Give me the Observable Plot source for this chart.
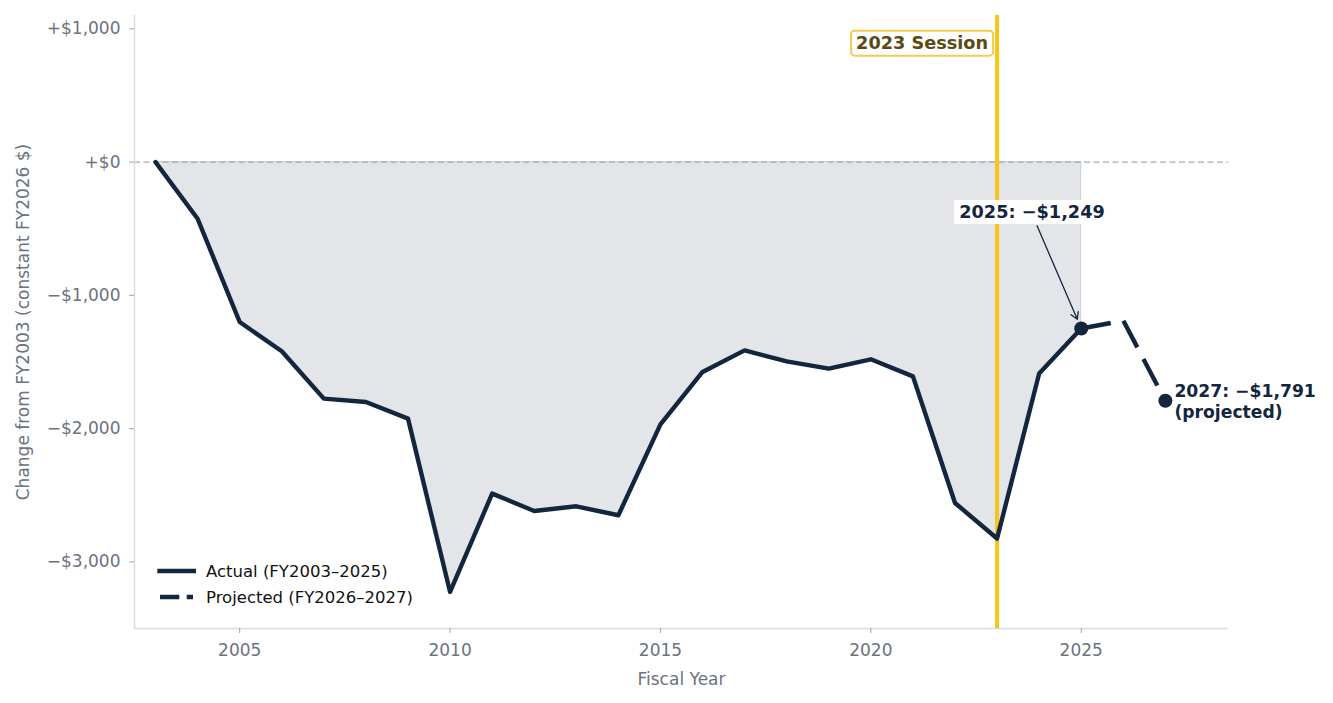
<!DOCTYPE html>
<html>
<head>
<meta charset="utf-8">
<script src="https://cdn.jsdelivr.net/npm/d3@7"></script>
<script src="https://cdn.jsdelivr.net/npm/@observablehq/plot@0.6"></script>
<style>
  html, body { margin: 0; padding: 0; background: #fff; }
  #wrap { position: relative; width: 1333px; height: 703px; font-family: "DejaVu Sans", sans-serif; }
  #legend { position: absolute; left: 156px; top: 558px; font-size: 16.5px; color: #111; }
  #legend .row { display: flex; align-items: center; height: 26px; }
  #legend svg { margin-right: 10px; }
</style>
</head>
<body>
<div id="wrap"></div>
<script>
// ---- data ----
const actualYears = [2003, 2004, 2005, 2006, 2007, 2008, 2009, 2010, 2011, 2012, 2013, 2014,
                     2015, 2016, 2017, 2018, 2019, 2020, 2021, 2022, 2023, 2024, 2025];
const actualValues = [0, -425, -1200, -1420, -1775, -1800, -1925, -3226, -2488, -2618, -2583, -2650,
                      -1968, -1575, -1413, -1495, -1550, -1480, -1608, -2558, -2825, -1587, -1249];
const projYears = [2025, 2026, 2027];
const projValues = [-1249, -1190, -1791];
const markerYears = [2025, 2027];
const markerValues = [-1249, -1791];
const xTicks = [2005, 2010, 2015, 2020, 2025];
const yTicks = [-3000, -2000, -1000, 0, 1000];
const xDomain = [2002.5, 2028.5];
const yDomain = [-3500, 1100];
const sessionYear = 2023;
const sessionText = "2023 Session";
// annotation for FY2025: label anchor and arrow start (data space)
const annot2025 = [{label: "2025: \u2212$1,249", lx: 2023.83, ly: -377, ax: 2023.95, ay: -478, px: 2025, py: -1249}];
const annot2027 = [{label: "2027: \u2212$1,791\n(projected)", px: 2027, py: -1791}];
const legendItems = ["Actual (FY2003\u20132025)", "Projected (FY2026\u20132027)"];

const navy = "#13263e";
const gold = "#f5c518";

const actualRows = actualYears.map((y, i) => ({year: y, value: actualValues[i]}));
const projRows = projYears.map((y, i) => ({year: y, value: projValues[i]}));
const markerRows = markerYears.map((y, i) => ({year: y, value: markerValues[i]}));

const fmtY = d => (d < 0 ? "\u2212" : "+") + "$" + d3.format(",")(Math.abs(d));

const chart = Plot.plot({
  width: 1333,
  height: 703,
  marginLeft: 134,
  marginRight: 105,
  marginTop: 15,
  marginBottom: 75,
  style: {fontFamily: "DejaVu Sans", fontSize: "17px", background: "white", overflow: "visible"},
  x: {domain: xDomain},
  y: {domain: yDomain},
  marks: [
    Plot.areaY(actualRows, {x: "year", y1: 0, y2: "value", fill: "#e3e5e9", stroke: "#c8ccd2", strokeWidth: 1}),
    Plot.ruleY([0], {stroke: "#a5adb8", strokeWidth: 1.3, strokeDasharray: "6,3.5"}),
    Plot.ruleX([xDomain[0]], {stroke: "#d9dce1", strokeWidth: 1.5}),
    Plot.ruleY([yDomain[0]], {stroke: "#d9dce1", strokeWidth: 1.5}),
    Plot.ruleX([sessionYear], {stroke: gold, strokeWidth: 4}),
    Plot.line(actualRows, {x: "year", y: "value", stroke: navy, strokeWidth: 4.4, strokeLinejoin: "round", strokeLinecap: "round"}),
    Plot.line(projRows, {x: "year", y: "value", stroke: navy, strokeWidth: 4.4, strokeDasharray: "30,13", strokeLinecap: "butt"}),
    Plot.dot(markerRows, {x: "year", y: "value", r: 7, fill: navy}),
    Plot.arrow(annot2025, {x1: "ax", y1: "ay", x2: "px", y2: "py", stroke: navy, strokeWidth: 1.3, headLength: 9, insetEnd: 10, bend: 0}),
    Plot.text(annot2025, {x: "lx", y: "ly", text: "label", fill: navy, fontWeight: "bold", fontSize: 17.7}),
    Plot.text(annot2027, {x: "px", y: "py", text: "label", fill: navy, fontWeight: "bold", fontSize: 17.2, textAnchor: "start", dx: 9, lineAnchor: "middle", lineHeight: 1.22}),
    Plot.text([sessionText], {x: sessionYear, frameAnchor: "top", dy: 28, dx: -9, textAnchor: "end", lineAnchor: "middle", fill: "#5c4a12", fontWeight: "bold", fontSize: 17.7}),
    Plot.axisX({ticks: xTicks, tickFormat: d => String(d), tickSize: 5, tickPadding: 10, color: "#6b7280", stroke: "#9ca3af",
                label: "Fiscal Year", labelAnchor: "center", labelArrow: "none", labelOffset: 56}),
    Plot.axisY({ticks: yTicks, tickFormat: fmtY, tickSize: 5, tickPadding: 9, color: "#6b7280", stroke: "#9ca3af",
                label: "Change from FY2003 (constant FY2026 $)", labelAnchor: "center", labelArrow: "none", labelOffset: 118})
  ]
});

const wrap = document.getElementById("wrap");
wrap.appendChild(chart);

// label boxes, found by their text content
function boxBehind(content, padX, padY, fill, stroke, sw, rx) {
  chart.querySelectorAll("text").forEach(t => {
    if (t.textContent !== content) return;
    const b = t.getBBox();
    const r = document.createElementNS("http://www.w3.org/2000/svg", "rect");
    r.setAttribute("x", b.x - padX);
    r.setAttribute("y", b.y - padY);
    r.setAttribute("width", b.width + 2 * padX);
    r.setAttribute("height", b.height + 2 * padY);
    r.setAttribute("rx", rx);
    r.setAttribute("fill", fill);
    if (stroke) { r.setAttribute("stroke", stroke); r.setAttribute("stroke-width", sw); }
    const tr = t.getAttribute("transform");
    if (tr) r.setAttribute("transform", tr);
    t.parentNode.insertBefore(r, t);
  });
}
boxBehind(sessionText, 5, 2.5, "white", "#f3cd4f", 2, 3.5);
boxBehind(annot2025[0].label, 5, 2, "white", null, 0, 0);

// legend
const legend = document.createElement("div");
legend.id = "legend";
legendItems.forEach((label, i) => {
  const row = document.createElement("div");
  row.className = "row";
  const line = i === 0
    ? `<line x1="1.3" y1="5" x2="40" y2="5" stroke="${navy}" stroke-width="4.4"/>`
    : `<line x1="4" y1="5" x2="37" y2="5" stroke="${navy}" stroke-width="4.4" stroke-dasharray="19.3,7.4"/>`;
  row.innerHTML = `<svg width="40" height="10">${line}</svg><span>${label}</span>`;
  legend.appendChild(row);
});
wrap.appendChild(legend);
</script>
</body>
</html>
